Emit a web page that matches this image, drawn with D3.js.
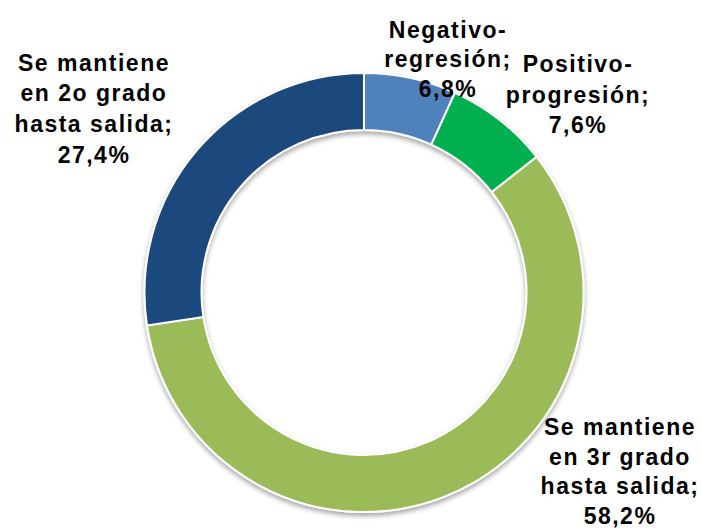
<!DOCTYPE html>
<html>
<head>
<meta charset="utf-8">
<script src="https://cdn.jsdelivr.net/npm/d3@7"></script>
<style>
body { margin: 0; background: #fff; }
text { font-family: "Liberation Sans", Arial, sans-serif; font-weight: bold; font-size: 23px; fill: #000; letter-spacing: 1.5px; }
</style>
</head>
<body>
<div id="chart"></div>
<script>
// data
var categories = ['Negativo-regresión', 'Positivo-progresión', 'Se mantiene en 3r grado hasta salida', 'Se mantiene en 2o grado hasta salida'];
var values = [6.8, 7.6, 58.2, 27.4];
var labelLines = [
	['Negativo-', 'regresión;', '6,8%'],
	['Positivo-', 'progresión;', '7,6%'],
	['Se mantiene', 'en 3r grado', 'hasta salida;', '58,2%'],
	['Se mantiene', 'en 2o grado', 'hasta salida;', '27,4%']
];
var colors = ['#4F81BD', '#00B050', '#9BBB59', '#1F497D'];

var svgWidth = 701,
	svgHeight = 529;

var cx = 364, cy = 292.5,
	outerR = 219.5, innerR = 162.5;

var svg = d3.select('#chart')
	.append('svg')
	.attr('width', svgWidth)
	.attr('height', svgHeight);

var defs = svg.append('defs');
var filter = defs.append('filter')
	.attr('id', 'shadow')
	.attr('x', '-10%').attr('y', '-10%')
	.attr('width', '120%').attr('height', '120%');
filter.append('feDropShadow')
	.attr('dx', 0).attr('dy', 3)
	.attr('stdDeviation', 2.5)
	.attr('flood-color', '#000')
	.attr('flood-opacity', 0.35);

var pie = d3.pie()
	.sort(null)
	.startAngle(0)
	.endAngle(2 * Math.PI);

var arc = d3.arc()
	.innerRadius(innerR)
	.outerRadius(outerR);

var donut = svg.append('g')
	.attr('transform', `translate(${cx},${cy})`)
	.attr('filter', 'url(#shadow)');

donut.selectAll('path')
	.data(pie(values))
	.enter()
	.append('path')
	.attr('d', arc)
	.attr('fill', (d, i) => colors[i])
	.attr('stroke', '#fff')
	.attr('stroke-width', 2);

// label anchors (center x, first baseline, line height)
var labelPos = [
	{x: 448, y: 37.5, lh: 29.8},
	{x: 578, y: 72, lh: 30.5},
	{x: 620, y: 435, lh: 29.7},
	{x: 94, y: 70.5, lh: 30.9}
];

var labels = svg.append('g');
labelLines.forEach((lines, i) => {
	var t = labels.append('text')
		.attr('text-anchor', 'middle')
		.attr('x', labelPos[i].x)
		.attr('y', labelPos[i].y);
	lines.forEach((l, j) => {
		t.append('tspan')
			.attr('x', labelPos[i].x)
			.attr('y', labelPos[i].y + j * labelPos[i].lh)
			.text(l);
	});
});
</script>
</body>
</html>
